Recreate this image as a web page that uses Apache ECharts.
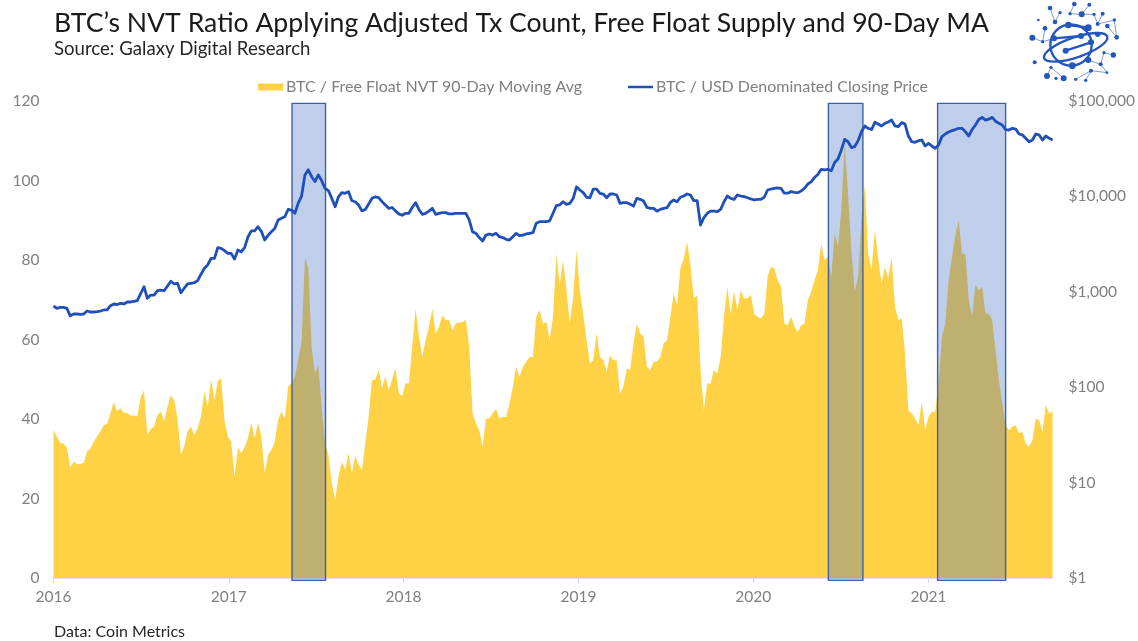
<!DOCTYPE html>
<html>
<head>
<meta charset="utf-8">
<script src="https://cdn.jsdelivr.net/npm/echarts@6/dist/echarts.min.js"></script>
<style>html,body{margin:0;padding:0;background:#fff}#c{width:1138px;height:641px}</style>
</head>
<body>
<div id="c"></div>
<script>
// Weekly readings starting 2016-01-01
const firstWeek = Date.UTC(2016, 0, 1);
const nvtWeekly = [
37.2,35.5,34,33.8,32.7,27.8,29.3,28.6,28.7,29,
31.8,32.5,34.3,35.6,36.9,38.5,38.8,41.5,44.2,41.9,
42.7,41.5,41.6,40.8,40.9,40.6,45.5,47.2,36,37.5,
38.1,41,41.9,39.5,43.1,46,44.8,40,31,33.1,
36.9,38.1,36,37.7,40.6,47,43.1,50,44.8,49.5,
50.3,39.5,35.6,34.3,25.5,32.9,31.4,32.9,35.2,39,
35.2,39,35.6,26.4,31,32.2,34.3,39.8,41.9,40.2,
48.2,49,50.7,54.9,59.5,80.5,78,58,51.5,53.6,
42.7,33.9,31,23.9,19.7,25.5,29.3,27.2,31.4,26.4,
30.6,28.5,27.2,33.9,40.6,49.9,49.9,52.4,47.8,50.7,
47.3,49.9,52.8,46.5,45.7,49,48.9,58.2,67.8,60.7,
55.6,59.8,63.2,67.8,61.5,63.2,66.1,64.9,64.9,62.3,
64,64.2,64.4,65,58.2,41.4,38.9,37.2,33,40.1,
40.1,41.4,42.6,40.1,40.5,40.5,43.9,48.1,53.1,50.6,
53.1,54.4,55.6,55.6,65.7,67.4,64,64.4,59.8,65.7,
81.6,73.7,80,72.4,64,70.7,82.5,72.4,66.5,59.8,
54,54.8,61.5,55.6,54.8,51.9,56,54.8,54.8,46.4,
48.1,52.7,52.3,59,64,61.5,60.7,53.1,52.3,54.4,
54.4,55.6,59,59.8,65.7,71.6,68.6,77.9,80.4,84.6,
78.7,70.3,71.2,52.3,42.2,48.9,48.9,52.3,51.4,55.6,
65.7,73.2,66.5,72,67.4,72.4,70.3,70.3,71.2,66.5,
65.7,65.3,66.5,75.8,78.3,77.9,74.9,73.3,64,63.6,
65.7,63.2,61.9,63.6,64,69.9,72,74.9,77.4,84.2,
80,80.8,75.8,86.7,83.3,92.5,109.3,96.7,82.5,72,
75.8,90.9,98.8,81.6,77.4,87.5,80.4,74.1,78.3,75.4,
80.8,68.2,64.9,65.3,56.5,42.2,41.4,40.1,38.5,44.3,
37.2,40.6,41.8,41.8,48.9,60.7,64,74.9,80.8,86.2,
90,81.6,81.6,69.9,65.7,73.7,72.4,73.3,66.5,66.5,
64.9,57.3,49.8,43.9,38.4,37.2,38,38.4,36.4,36.8,
33.8,33,34.7,40.1,39.7,36.8,43.5,41.4,41.8
];
const btcWeekly = [
710,671,688,688,671,560,585,585,580,585,
629,614,614,620,629,645,645,715,745,735,
757,745,782,782,795,807,955,1130,855,925,
925,1026,1040,1026,1150,1290,1208,1227,977,1090,
1208,1227,1245,1309,1530,1762,1910,2244,2244,2900,
2858,2700,2530,2530,2200,2740,2630,2900,3750,4350,
4350,4808,4300,3490,3900,4266,4620,5650,5900,6124,
7300,7194,6650,8500,10090,16800,19000,16100,14300,16800,
14600,12150,11480,9550,7800,9900,10950,10780,11220,9000,
8790,8128,7050,7300,8300,9550,9900,9730,8790,8128,
7500,7650,7050,6560,6340,6650,6650,7650,8590,7300,
6490,6650,7000,7500,6490,6650,6760,6760,6550,6550,
6650,6650,6650,6650,5660,4250,4100,3700,3410,3935,
4036,3935,4100,3784,3700,3550,3490,3784,4100,3873,
3935,4036,4100,4168,5224,5433,5433,5433,5550,6650,
8000,8128,8790,8250,8450,9500,12600,11670,10940,9790,
9680,11900,11900,10770,10590,9680,10590,10590,10350,8450,
8590,8590,8300,7900,9550,9310,8950,7680,7500,7500,
7000,7310,7500,7620,8650,9170,8790,9790,10090,10590,
10350,9020,9020,5012,6000,6650,7000,7000,6920,7310,
8790,10090,9550,9310,10350,10090,9930,9680,9400,9170,
9310,9310,9790,11670,11950,12160,12300,12160,10800,10800,
11220,11000,10940,11400,12160,13490,14200,15800,17000,19230,
18920,19230,18600,22700,24700,30700,39630,37410,32500,33300,
38400,47640,54700,51760,50200,59800,57300,54700,58340,60300,
63100,54700,53800,59290,57300,42950,37410,36900,38400,39000,
33730,35970,33730,31920,34590,42300,45080,47300,48870,50200,
51760,51760,47640,42950,50200,55980,64000,67450,63100,64500,
67450,61400,58340,55980,50200,49650,51760,50800,45080,44060,
40640,37410,39000,45080,44060,39000,42950,40640,39000
];
const yearTicks = [2016, 2017, 2018, 2019, 2020, 2021];
const leftTicks = [0, 20, 40, 60, 80, 100, 120];
const rightTicks = ['$1', '$10', '$100', '$1,000', '$10,000', '$100,000'];
const bandStarts = ['2017-05-13', '2020-06-06', '2021-01-20'];
const bandEnds = ['2017-07-22', '2020-08-17', '2021-06-11'];
const nvtName = 'BTC / Free Float NVT 90-Day Moving Avg';
const btcName = 'BTC / USD Denominated Closing Price';

const DAY = 86400000;
const weekTime = i => firstWeek + i * 7 * DAY;
const nvtData = nvtWeekly.map((v, i) => [weekTime(i), v]);
const btcData = btcWeekly.map((v, i) => [weekTime(i), v]);
const yearTimes = yearTicks.map(y => Date.UTC(y, 0, 1));
const bandData = bandStarts.map((s, i) => [Date.parse(s + 'T00:00:00Z'), Date.parse(bandEnds[i] + 'T00:00:00Z'), -0.6, 119.4]);

// Logo, decoration only
const logoNodes = [[75,24,7],[105,38,5],[90,66,7],[148,12,7],[193,14,6],[135,41,5],[170,43,9],[207,43,5],[233,41,6],[218,72,6],[268,60,5],[247,78,7],[275,112,7],[40,60,4],[60,85,7],[53,125,5],[22,113,9],[29,187,6],[66,228,9],[78,202,5],[116,235,9],[93,235,5],[152,238,5],[198,212,6],[182,241,5],[246,218,4],[237,158,5],[265,165,8],[227,193,6],[190,180,9],[142,197,10],[130,75,10],[190,83,10],[87,115,9],[168,108,9],[122,152,9],[198,127,9],[218,103,8]];
const logoThin = [[75,24,90,66],[105,38,90,66],[148,12,135,41],[193,14,170,43],[135,41,170,43],[170,43,207,43],[207,43,218,72],[233,41,218,72],[218,72,268,60],[268,60,275,112],[247,78,275,112],[60,85,53,125],[53,125,22,113],[53,125,87,115],[66,228,78,202],[78,202,116,235],[152,238,198,212],[198,212,182,241],[198,212,246,218],[237,158,227,193],[227,193,190,180],[227,193,246,218],[237,158,265,165]];
const logoThick = [[87,115,168,108],[122,152,198,127],[130,75,190,83]];
const blue = '#2456BC';
const logoChildren = [];
logoThin.forEach(l => logoChildren.push({type:'line',shape:{x1:l[0],y1:l[1],x2:l[2],y2:l[3]},style:{stroke:'#7F9BDB',lineWidth:3}}));
logoThick.forEach(l => logoChildren.push({type:'line',shape:{x1:l[0],y1:l[1],x2:l[2],y2:l[3]},style:{stroke:blue,lineWidth:7}}));
logoChildren.push({type:'ellipse',shape:{cx:0,cy:0,rx:100,ry:30},x:152,y:142,rotation:0.33,style:{fill:'none',stroke:blue,lineWidth:7}});
logoChildren.push({type:'circle',shape:{cx:138,cy:135,r:62},style:{fill:'none',stroke:blue,lineWidth:7}});
logoNodes.forEach(n => logoChildren.push({type:'circle',shape:{cx:n[0],cy:n[1],r:n[2]},style:{fill:blue}}));

const axisGray = '#7F7F7F';
const font = 'Lato';

const chart = echarts.init(document.getElementById('c'), null, {renderer:'canvas'});
chart.setOption({
  animation:false,
  backgroundColor:'#fff',
  title:[
    {text:'BTC’s NVT Ratio Applying Adjusted Tx Count, Free Float Supply and 90-Day MA',left:54,top:10,padding:0,textStyle:{fontFamily:font,fontWeight:400,fontSize:26.6,color:'#1a1a1a'}},
    {text:'Source: Galaxy Digital Research',left:54,top:39,padding:0,textStyle:{fontFamily:font,fontWeight:400,fontSize:18.6,color:'#262626'}},
    {text:'Data: Coin Metrics',left:54,top:624,padding:0,textStyle:{fontFamily:font,fontWeight:400,fontSize:16,color:'#262626'}}
  ],
  legend:[
    {data:[nvtName],left:258,top:79,padding:0,icon:'rect',itemWidth:25,itemHeight:7,textStyle:{fontFamily:font,fontSize:16,color:axisGray,padding:[0,0,0,-2]}},
    {data:[btcName],left:628,top:79,padding:0,icon:'rect',itemWidth:25,itemHeight:2.5,textStyle:{fontFamily:font,fontSize:16,color:axisGray,padding:[0,0,0,-2]}}
  ],
  grid:{left:53.5,right:84.5,top:101,bottom:63,containLabel:false},
  xAxis:{
    type:'value',
    min:firstWeek,
    max:weekTime(nvtWeekly.length-1),
    splitLine:{show:false},
    axisLine:{show:true,onZero:false,lineStyle:{color:'#D9D9D9',width:1.5}},
    axisTick:{show:true,length:5,lineStyle:{color:'#D9D9D9'},customValues:yearTimes},
    axisLabel:{color:axisGray,fontFamily:font,fontSize:15.5,margin:11,customValues:yearTimes,
      formatter:v=>String(new Date(v).getUTCFullYear())}
  },
  yAxis:[
    {type:'value',min:0,max:120,interval:20,position:'left',splitLine:{show:false},axisLine:{show:false},axisTick:{show:false},
      axisLabel:{color:axisGray,fontFamily:font,fontSize:15.5,margin:14,
        formatter:v=>leftTicks.includes(v)?String(v):''}},
    {type:'log',logBase:10,min:1,max:100000,position:'right',splitLine:{show:false},minorSplitLine:{show:false},axisLine:{show:false},axisTick:{show:false},minorTick:{show:false},
      axisLabel:{color:axisGray,fontFamily:font,fontSize:15.5,margin:16,
        formatter:v=>rightTicks[Math.round(Math.log10(v))]}}
  ],
  series:[
    {name:nvtName,type:'line',xAxisIndex:0,yAxisIndex:0,data:nvtData,symbol:'none',sampling:'none',z:2,
      lineStyle:{width:0,color:'#FFD145'},itemStyle:{color:'#FFD145'},areaStyle:{color:'#FFD145',opacity:1}},
    {name:'bands',type:'custom',xAxisIndex:0,yAxisIndex:0,data:bandData,z:3,clip:false,silent:true,
      encode:{x:[0,1],y:[2,3]},
      renderItem:(params,api)=>{
        const a=api.coord([api.value(0),api.value(3)]);
        const b=api.coord([api.value(1),api.value(2)]);
        return {type:'rect',shape:{x:a[0],y:a[1],width:b[0]-a[0],height:b[1]-a[1]},
          style:{fill:'rgba(68,114,196,0.34)',stroke:'#3E62A0',lineWidth:1.4}};
      }},
    {name:btcName,type:'line',xAxisIndex:0,yAxisIndex:1,data:btcData,symbol:'none',sampling:'none',z:4,
      lineStyle:{width:2.8,color:'#1F4FB8',join:'round'},itemStyle:{color:'#1F4FB8'}}
  ],
  graphic:[{type:'group',x:1025,y:0,scaleX:1/3,scaleY:1/3,children:logoChildren}]
});
</script>
</body>
</html>
